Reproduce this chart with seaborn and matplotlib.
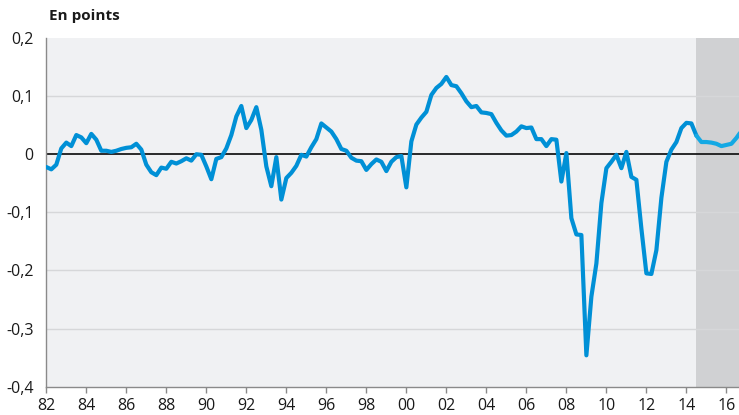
import numpy as np
import pandas as pd
import matplotlib
matplotlib.use("Agg")
import matplotlib.pyplot as plt
import seaborn as sns

# Quarterly values, 1982Q1 onwards (en points)
start_year = 1982
values = [
    -0.022, -0.026, -0.018, 0.010,   # 1982
    0.020, 0.014, 0.033, 0.029,      # 1983
    0.019, 0.035, 0.025, 0.006,      # 1984
    0.006, 0.004, 0.006, 0.009,      # 1985
    0.011, 0.012, 0.018, 0.008,      # 1986
    -0.018, -0.031, -0.036, -0.023,  # 1987
    -0.025, -0.013, -0.016, -0.012,  # 1988
    -0.007, -0.011, 0.000, -0.001,   # 1989
    -0.021, -0.043, -0.008, -0.005,  # 1990
    0.010, 0.033, 0.065, 0.083,      # 1991
    0.045, 0.059, 0.081, 0.042,      # 1992
    -0.021, -0.055, -0.005, -0.078,  # 1993
    -0.041, -0.032, -0.020, -0.001,  # 1994
    -0.004, 0.012, 0.026, 0.053,     # 1995
    0.046, 0.039, 0.026, 0.009,      # 1996
    0.006, -0.006, -0.011, -0.012,   # 1997
    -0.027, -0.017, -0.009, -0.013,  # 1998
    -0.029, -0.013, -0.005, -0.003,  # 1999
    -0.057, 0.022, 0.051, 0.063,     # 2000
    0.073, 0.102, 0.114, 0.121,      # 2001
    0.133, 0.119, 0.117, 0.105,      # 2002
    0.091, 0.081, 0.083, 0.072,      # 2003
    0.071, 0.069, 0.054, 0.041,      # 2004
    0.032, 0.033, 0.039, 0.048,      # 2005
    0.045, 0.046, 0.026, 0.026,      # 2006
    0.014, 0.026, 0.025, -0.047,     # 2007
    0.002, -0.110, -0.138, -0.139,   # 2008
    -0.346, -0.245, -0.188, -0.084,  # 2009
    -0.024, -0.013, -0.001, -0.024,  # 2010
    0.004, -0.039, -0.044, -0.128,   # 2011
    -0.205, -0.206, -0.165, -0.075,  # 2012
    -0.013, 0.008, 0.021, 0.045,     # 2013
    0.054, 0.053, 0.032, 0.021,      # 2014
    0.021, 0.020, 0.018, 0.014,      # 2015
    0.016, 0.018, 0.028, 0.040,      # 2016
]
forecast_start = 2014.5
x_end = 2016.63
tick_years = list(range(1982, 2017, 2))
tick_labels = [f"{y % 100:02d}" for y in tick_years]
y_ticks = [0.2, 0.1, 0.0, -0.1, -0.2, -0.3, -0.4]
y_labels = ["0,2", "0,1", "0", "-0,1", "-0,2", "-0,3", "-0,4"]

years = start_year + np.arange(len(values)) / 4.0
df = pd.DataFrame({"date": years, "value": values})
hist = df[df["date"] <= forecast_start]
fcst = df[df["date"] >= forecast_start]

sns.set_style("white")
plt.rcParams["font.family"] = ["Open Sans", "DejaVu Sans"]

fig = plt.figure(figsize=(7.39, 4.15), dpi=100)
ax = fig.add_axes([46.3 / 739, 1 - 386.7 / 415, 1 - 46.3 / 739, (386.7 - 38) / 415])
ax.set_facecolor("#f0f1f3")

ax.axvspan(forecast_start, x_end + 1, color="#d0d1d3", zorder=0, lw=0)
for yv in [0.1, -0.1, -0.2, -0.3]:
    ax.axhline(yv, color="#d6d7d9", lw=1.0, zorder=1)
ax.axhline(0, color="#1a1a1a", lw=1.3, zorder=2)

sns.lineplot(data=hist, x="date", y="value", ax=ax, color="#0090d6", lw=3.0,
             zorder=3, solid_joinstyle="round", solid_capstyle="round")
sns.lineplot(data=fcst, x="date", y="value", ax=ax, color="#14a9e4", lw=3.0,
             zorder=3, solid_joinstyle="round", solid_capstyle="round")

ax.set_xlim(start_year, x_end)
ax.set_ylim(-0.4, 0.2)
ax.set_xticks(tick_years)
ax.set_xticklabels(tick_labels)
ax.set_yticks(y_ticks)
ax.set_yticklabels(y_labels)
ax.set_xlabel("")
ax.set_ylabel("")

for s in ["top", "right"]:
    ax.spines[s].set_visible(False)
for s in ["left", "bottom"]:
    ax.spines[s].set_color("#8a8a8a")
    ax.spines[s].set_linewidth(1.0)

ax.tick_params(axis="x", length=4, width=1, color="#8a8a8a", pad=4,
               labelsize=11.5, labelcolor="#1a1a1a", direction="out", bottom=True)
ax.tick_params(axis="y", length=0, pad=9, labelsize=11.5, labelcolor="#1a1a1a")

fig.text(49 / 739, 1 - 20 / 415, "En points", fontsize=11, fontweight="bold",
         color="#1a1a1a", ha="left", va="baseline")

fig.savefig("out.png", dpi=100)
